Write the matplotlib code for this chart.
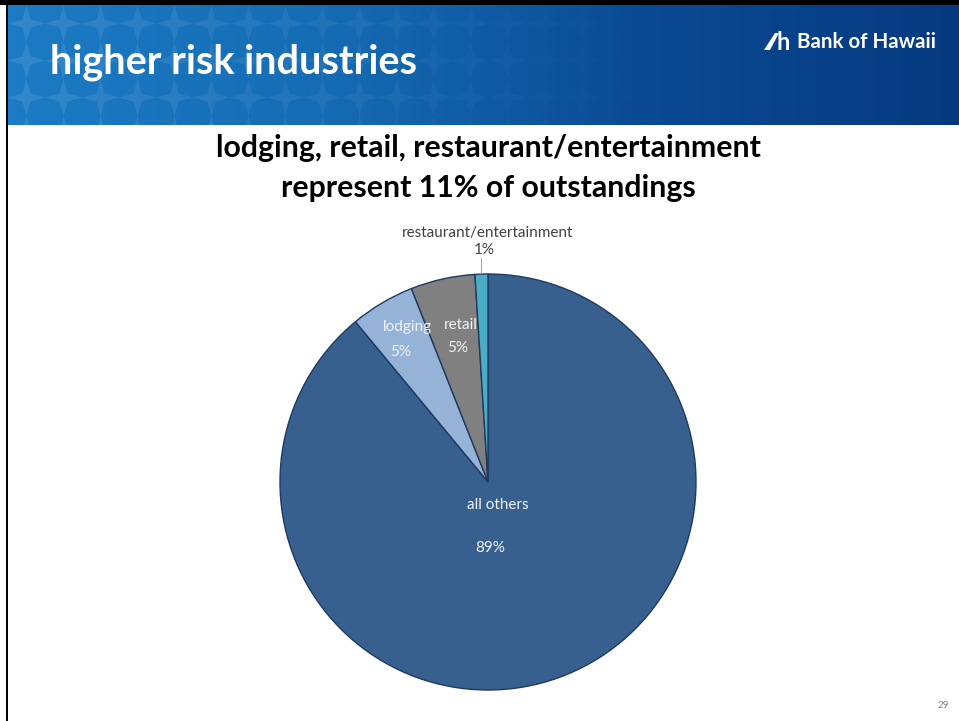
import numpy as np
import matplotlib.pyplot as plt
from matplotlib.patches import Rectangle, Polygon
from matplotlib.colors import LinearSegmentedColormap

# slice data, clockwise from 12 o'clock
segments = ["all others", "lodging", "retail", "restaurant/entertainment"]
shares = [89, 5, 5, 1]
colours = ["#37608F", "#95B3D7", "#808080", "#4BACC6"]

W, H = 959, 721
plt.rcParams['font.family'] = ['Lato', 'DejaVu Sans']

fig = plt.figure(figsize=(W / 100, H / 100), dpi=100)
bg = fig.add_axes([0, 0, 1, 1])
bg.set_xlim(0, W)
bg.set_ylim(H, 0)
bg.axis('off')

# banner: gradient + faint star tiles
x0, y0, x1, y1 = 8, 5, W, 125
grad = np.linspace(0, 1, 300)[None, :]
cmap = LinearSegmentedColormap.from_list("ban", ["#1C7BC4", "#156CB4", "#0A4A93", "#063A80"])
bg.imshow(grad, extent=[x0, x1, y1, y0], aspect='auto', cmap=cmap, zorder=1)
tile = 37
for tx in np.arange(x0 + tile / 2, 700, tile):
    a = max(0.0, 0.10 * (1 - (tx - x0) / 650))
    for ty in np.arange(y0 + tile / 2 - tile, y1 + tile, tile):
        r = tile / 2
        star = [(tx, ty - r), (tx + r * 0.22, ty - r * 0.22), (tx + r, ty),
                (tx + r * 0.22, ty + r * 0.22), (tx, ty + r),
                (tx - r * 0.22, ty + r * 0.22), (tx - r, ty),
                (tx - r * 0.22, ty - r * 0.22)]
        bg.add_patch(Polygon(star, closed=True, fc='white', ec='none', alpha=a, zorder=2))
bg.add_patch(Rectangle((0, y1), W, H - y1, fc='white', ec='none', zorder=3))
bg.add_patch(Rectangle((0, 0), W, y0, fc='black', ec='none', zorder=4))
bg.add_patch(Rectangle((5.5, 0), 2.5, H, fc='black', ec='none', zorder=4))

bg.text(50, 62, "higher risk industries", color='white', fontsize=28.5,
        fontweight='bold', va='center', ha='left', zorder=5)
# logo
bg.add_patch(Polygon([(764, 50), (775, 33), (779, 33), (770, 50)], fc='white', ec='none', zorder=5))
bg.text(777, 42, "h", color='white', fontsize=17, fontweight='bold',
        va='center', ha='left', zorder=5)
bg.text(797, 42, "Bank of Hawaii", color='white', fontsize=14.8,
        fontweight='bold', va='center', ha='left', zorder=5)

bg.text(488, 148, "lodging, retail, restaurant/entertainment",
        fontsize=21.8, fontweight='bold', ha='center', va='center', color='black', zorder=5)
bg.text(488, 188, "represent 11% of outstandings",
        fontsize=21.8, fontweight='bold', ha='center', va='center', color='black', zorder=5)
bg.text(943, 705, "29", fontsize=7, color='#808080', ha='center', va='center', zorder=5)

# pie
cx, cy, R = 488, 482, 208
ax = fig.add_axes([(cx - R) / W, (H - cy - R) / H, 2 * R / W, 2 * R / H])
ax.pie(shares, colors=colours, startangle=90, counterclock=False,
       wedgeprops=dict(edgecolor='#1F3A60', linewidth=1.0))
ax.set_xlim(-1, 1)
ax.set_ylim(-1, 1)

# data labels on a transparent overlay above the pie
top = fig.add_axes([0, 0, 1, 1])
top.set_xlim(0, W)
top.set_ylim(H, 0)
top.axis('off')
top.patch.set_alpha(0)

lab = '#F2F2F2'
fs = 11
top.text(498, 505, segments[0], color=lab, fontsize=fs, ha='center', va='center')
top.text(490, 548, f"{shares[0]}%", color=lab, fontsize=fs, ha='center', va='center')
top.text(407, 327, segments[1], color=lab, fontsize=fs, ha='center', va='center')
top.text(401, 352, f"{shares[1]}%", color=lab, fontsize=fs, ha='center', va='center')
top.text(461, 325, segments[2], color=lab, fontsize=fs, ha='center', va='center')
top.text(458, 348, f"{shares[2]}%", color=lab, fontsize=fs, ha='center', va='center')
top.text(488, 233, segments[3], color='#404040', fontsize=fs, ha='center', va='center')
top.text(484, 250, f"{shares[3]}%", color='#404040', fontsize=fs, ha='center', va='center')
top.plot([481, 481], [258, 273], color='#A6A6A6', lw=0.8)

fig.savefig("out.png", dpi=100)
